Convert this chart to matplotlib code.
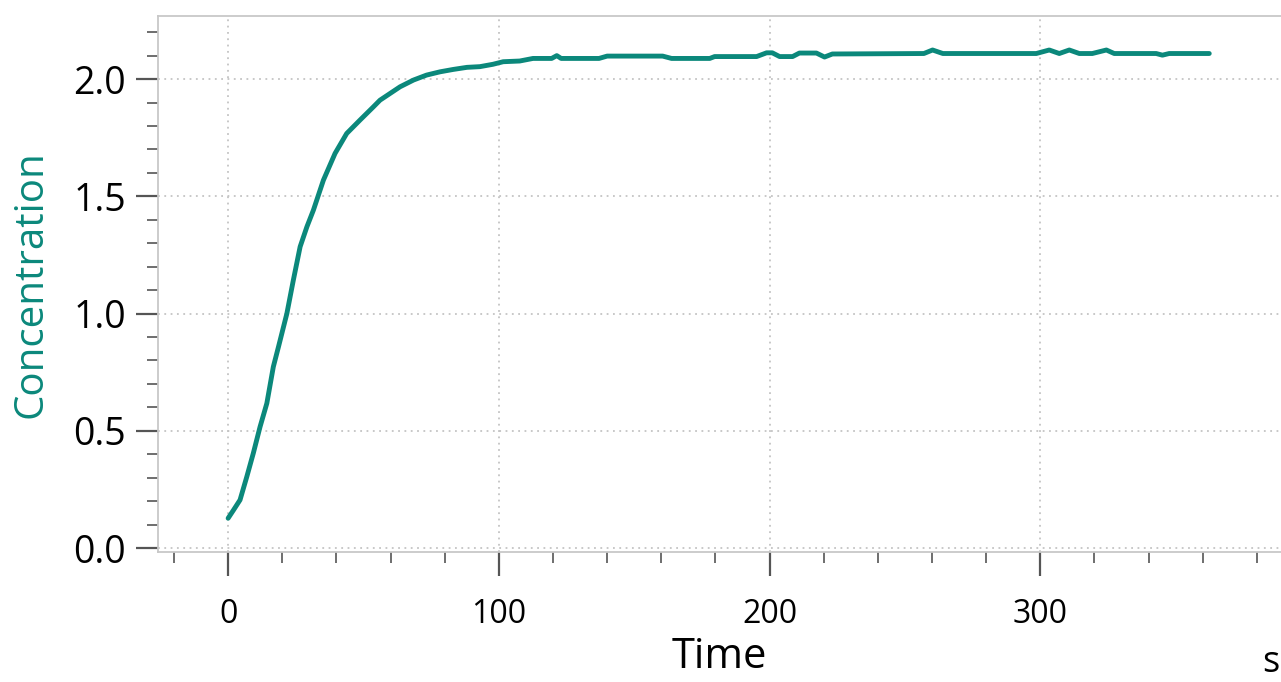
import matplotlib.pyplot as plt
from matplotlib.ticker import MultipleLocator

# 读自图片的数据 (时间 s, 浓度)
time_s = [0, 2, 4.4, 6.9, 9.3, 11.8, 14.3, 16.7, 18.6, 21.7, 24.1, 26.6, 29.1,
          31.5, 35.2, 39.5, 43.8, 48.7, 53.7, 56.1, 63.5, 68.5, 73.3, 78.3,
          83.1, 88.2, 93, 97.8, 101.6, 107.7, 112.6, 119.5, 121.4,
          123, 137, 140, 160.5, 163.8, 177.9, 179.7, 195.2, 198.9, 201, 203.7,
          208.5, 211, 217.3, 220.3, 223.2, 257, 260.2, 264, 298.5, 303.3, 307,
          310.7, 314.4, 319.2, 324.4, 327.3, 342.8, 345.1, 347.6, 362.4]
concentration = [0.127, 0.162, 0.205, 0.304, 0.404, 0.517, 0.617, 0.773, 0.858,
                 1.0, 1.143, 1.285, 1.370, 1.441, 1.569, 1.683, 1.768, 1.825,
                 1.882, 1.910, 1.967, 1.996, 2.017, 2.031, 2.041, 2.050, 2.053,
                 2.063, 2.074, 2.077, 2.088, 2.088, 2.100, 2.088, 2.088, 2.098,
                 2.098, 2.088, 2.088, 2.096, 2.096, 2.112, 2.112, 2.096, 2.096,
                 2.111, 2.111, 2.094, 2.107, 2.109, 2.124, 2.109, 2.109, 2.124,
                 2.109, 2.124, 2.109, 2.109, 2.124, 2.109, 2.109, 2.102, 2.109,
                 2.109]

TEAL = "#0b887b"
plt.rcParams['font.family'] = ['Open Sans', 'DejaVu Sans']

fig = plt.figure(figsize=(12.81, 6.82), dpi=100)
ax = fig.add_axes([158 / 1281, 1 - 552 / 682, 1 - 158 / 1281, (552 - 16) / 682])

ax.plot(time_s, concentration, color=TEAL, linewidth=3.5,
        solid_capstyle='round', solid_joinstyle='round')

ax.set_xlim(-25.9, 388.9)
ax.set_ylim(-0.017, 2.269)
ax.xaxis.set_major_locator(MultipleLocator(100))
ax.xaxis.set_minor_locator(MultipleLocator(20))
ax.yaxis.set_major_locator(MultipleLocator(0.5))
ax.yaxis.set_minor_locator(MultipleLocator(0.1))
ax.yaxis.set_major_formatter(lambda v, p: f"{v:.1f}")

ax.grid(True, which='major', color='#c4c4c4', linestyle=(0, (1, 2.5)), linewidth=1.3)

for name, sp in ax.spines.items():
    sp.set_color('#c8c8c8')
    sp.set_linewidth(1.3)
ax.spines['right'].set_visible(False)

ax.tick_params(axis='y', which='major', length=16, width=1.6, color='#555555',
               labelsize=27, pad=7)
ax.tick_params(axis='y', which='minor', length=8, width=1.2, color='#555555')
ax.tick_params(axis='x', which='major', length=17, width=1.6, color='#555555',
               labelsize=23, pad=16)
ax.tick_params(axis='x', which='minor', length=8, width=1.2, color='#555555')

ax.set_ylabel("Concentration", fontsize=29, color=TEAL, labelpad=16)
ax.set_xlabel("Time", fontsize=30, labelpad=4)
fig.text(1262 / 1281, 1 - 681 / 682, "s", fontsize=26, ha='left', va='bottom')

fig.savefig("out.png", dpi=100)
